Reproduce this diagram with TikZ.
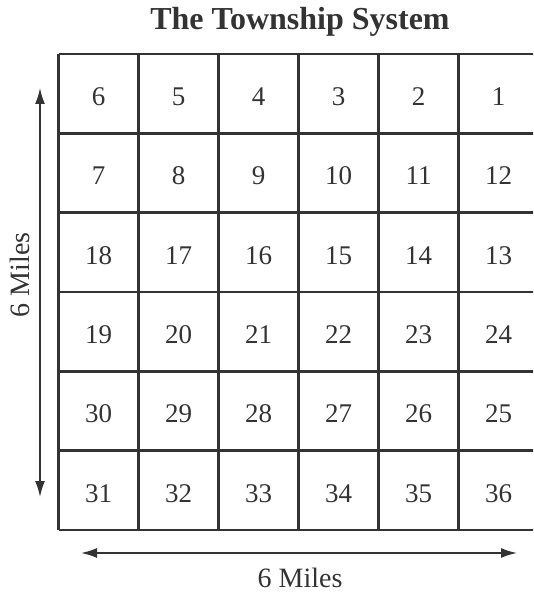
\documentclass[tikz,border=0pt]{standalone}
\usepackage{fontspec}
\setmainfont{Liberation Serif}
\usetikzlibrary{arrows.meta}
\definecolor{ink}{HTML}{333333}
\begin{document}
\begin{tikzpicture}[
    x=1pt, y=-1pt,
    >={Latex[length=16pt,width=10pt]},
    every node/.style={text=ink},
    gridline/.style={draw=ink, line width=2.4pt},
    section/.style={font=\fontsize{27}{27}\selectfont, inner sep=0pt},
    span/.style={draw=ink, line width=1.8pt, <->},
    spanlabel/.style={font=\fontsize{28}{28}\selectfont}
]
\useasboundingbox (0,0) rectangle (533,593);
\clip (0,0) rectangle (533,593);

\def\xo{58.5}
\def\yo{54}
\def\dx{80}
\def\dy{79.33}

% Title
\node[font=\bfseries\fontsize{32}{32}\selectfont] (title) at (300,22) {The Township System};

% Grid of 36 sections (right border runs off the page)
\foreach \i in {0,...,6}{
    \draw[gridline] (\xo+\i*\dx, \yo) -- (\xo+\i*\dx, \yo+6*\dy);
    \draw[gridline] (\xo, \yo+\i*\dy) -- (\xo+6*\dx, \yo+\i*\dy);
}

% Section numbers, running back and forth row by row
\foreach \r in {0,...,5}{
    \foreach \c in {0,...,5}{
        \pgfmathtruncatemacro{\n}{isodd(\r) ? 6*\r+1+\c : 6*\r+6-\c}
        \node[section] (s\n) at (\xo+\c*\dx+0.5*\dx, \yo+\r*\dy+0.5*\dy+3) {\n};
    }
}

% Dimension arrows
\coordinate (vtop) at (40,88);
\coordinate (vbot) at (40,497);
\coordinate (hleft) at (81,553);
\coordinate (hright) at (517,553);
\draw[span] (vtop) -- (vbot);
\draw[span] (hleft) -- (hright);
\node[spanlabel, rotate=90] (vlabel) at (20,275) {6 Miles};
\node[spanlabel] (hlabel) at (300,578) {6 Miles};

\end{tikzpicture}
\end{document}
